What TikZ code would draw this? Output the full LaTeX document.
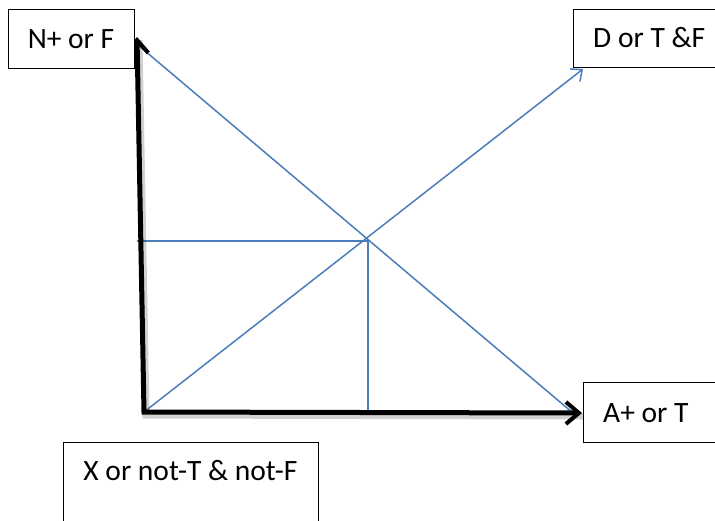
\documentclass[tikz,border=0pt]{standalone}
\usepackage{fontspec}
\setmainfont{Carlito}
\usetikzlibrary{arrows.meta}
\definecolor{lineblue}{HTML}{4A7EBB}
\begin{document}
\begin{tikzpicture}[x=1pt,y=-1pt,
  box/.style={draw=black,line width=0.9pt,fill=white,inner sep=0pt},
  lbl/.style={inner sep=0pt,font=\fontsize{29.5}{35}\selectfont},
  axisline/.style={line width=5pt,line join=miter,
    {Straight Barb[length=13pt,width=22pt,line width=4pt]}-{Straight Barb[length=13pt,width=22pt,line width=4pt]}},
  shadowline/.style={line width=7pt,draw=black,opacity=0.18,line join=miter},
  blueline/.style={draw=lineblue,line width=1.5pt},
  bluearrow/.style={blueline,-{Straight Barb[length=9pt,width=16pt,line width=1.5pt]}}
]
\useasboundingbox (0,0) rectangle (715,520);
\clip (0,0) rectangle (715,520);

% key points
\coordinate (O) at (144,412);
\coordinate (Ytip) at (137,37);
\coordinate (Xtip) at (582,413);
\coordinate (A) at (138,45);
\coordinate (B) at (573,413);
\coordinate (C) at (583,69);
\coordinate (M) at (368,241);
\coordinate (H) at (137,241);
\coordinate (V) at (368,412);

% blue lines
\draw[blueline] (A) -- (B);
\draw[bluearrow] (O) -- (C);
\draw[blueline] (H) -- (M);
\draw[blueline] (M) -- (V);

% axes shadow
\begin{scope}[transform canvas={shift={(2pt,-3pt)}}]
  \draw[shadowline] (Ytip) -- (O) -- (Xtip);
\end{scope}
% axes
\draw[axisline] (Ytip) -- (O) -- (Xtip);

% boxes
\node[box,minimum width=126pt,minimum height=59pt] (nbox) at (71,38.5) {};
\node[lbl,anchor=base] (nlbl) at (71,48) {N+ or F};

\node[box,minimum width=152pt,minimum height=58pt] (dbox) at (649,38) {};
\node[lbl,anchor=base west] (dlbl) at (593,47) {D or T \&F};

\node[box,minimum width=150pt,minimum height=60pt] (abox) at (658,412) {};
\node[lbl,anchor=base west] (albl) at (603,422) {A+ or T};

\node[box,minimum width=255pt,minimum height=100pt] (xbox) at (190.5,492) {};
\node[lbl,anchor=base] (xlbl) at (190.5,480) {X or not-T \& not-F};
\end{tikzpicture}
\end{document}
